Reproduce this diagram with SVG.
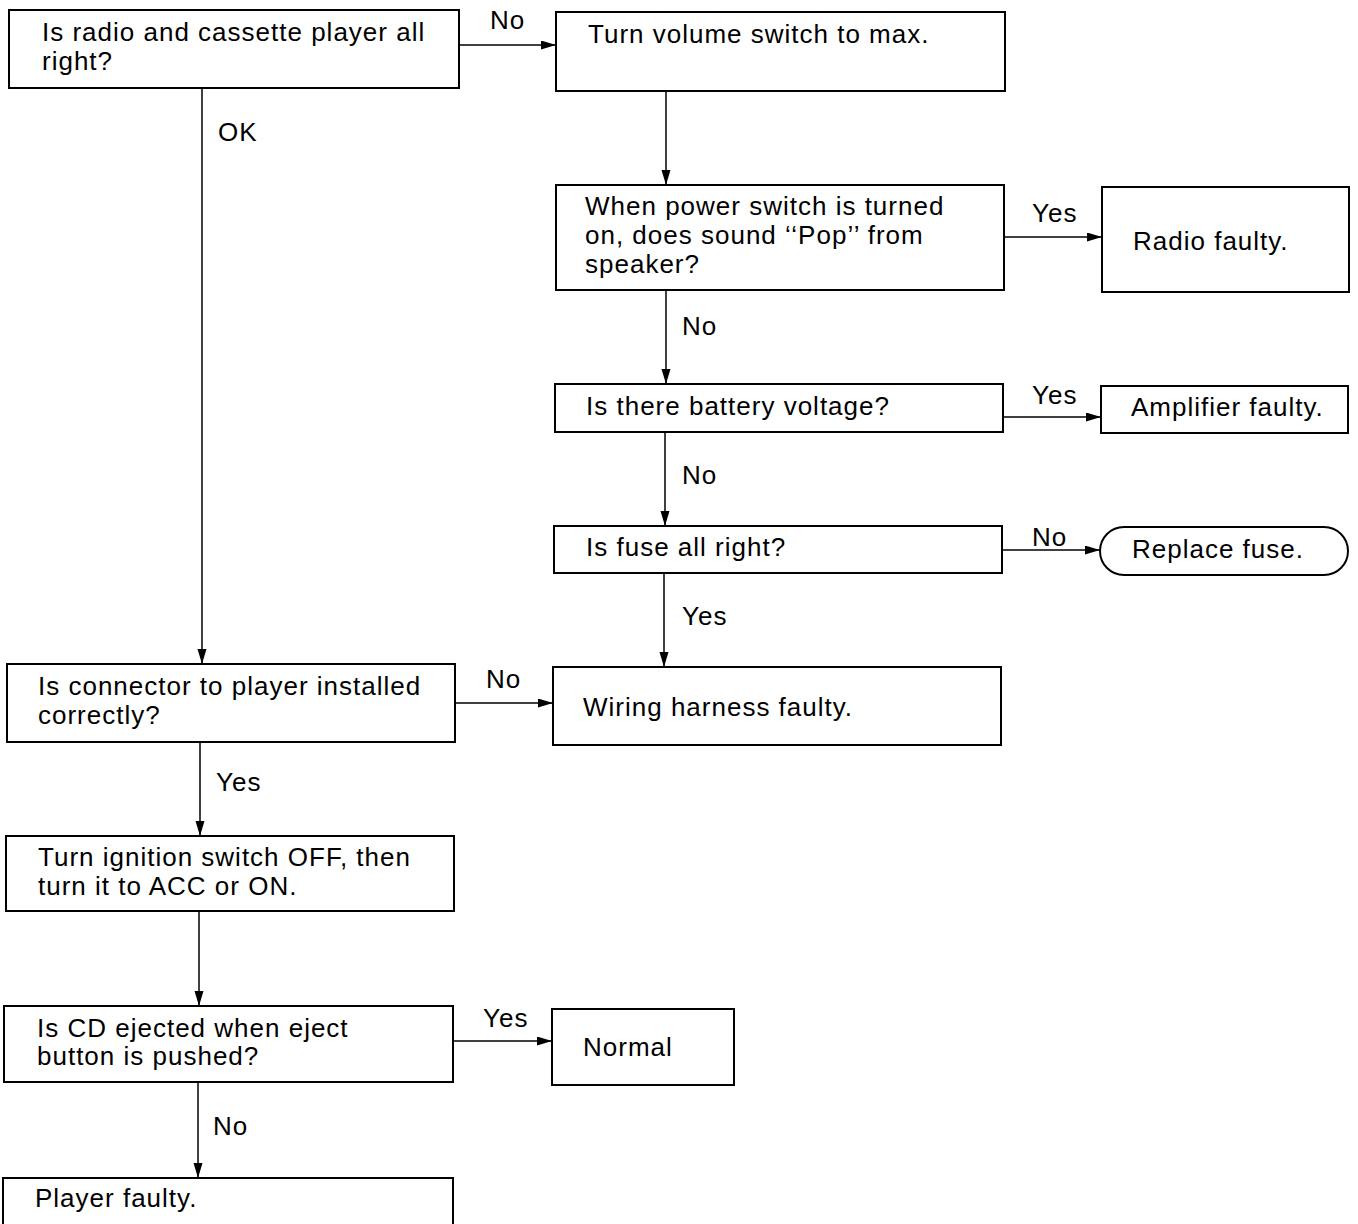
<svg xmlns="http://www.w3.org/2000/svg" width="1358" height="1224" viewBox="0 0 1358 1224">
<style>
.box{fill:#fff;stroke:#000;stroke-width:2}
.t{font-family:"Liberation Sans",Arial,sans-serif;font-size:26px;letter-spacing:1px;fill:#000}
.c{fill:none;stroke:#000;stroke-width:1.5}
</style>
<defs>
<marker id="ah" markerUnits="userSpaceOnUse" markerWidth="16" markerHeight="10" refX="15" refY="4.5" orient="auto">
<path d="M0,0 L15,4.5 L0,9 z" fill="#000"/>
</marker>
</defs>
<rect width="1358" height="1224" fill="#fff"/>
<g id="connectors">
<line class="c" x1="459" y1="45" x2="556" y2="45" marker-end="url(#ah)"/>
<line class="c" x1="666" y1="91" x2="666" y2="185" marker-end="url(#ah)"/>
<line class="c" x1="1004" y1="237" x2="1102" y2="237" marker-end="url(#ah)"/>
<line class="c" x1="666" y1="290" x2="666" y2="384" marker-end="url(#ah)"/>
<line class="c" x1="1003" y1="417" x2="1101" y2="417" marker-end="url(#ah)"/>
<line class="c" x1="665" y1="432" x2="665" y2="526" marker-end="url(#ah)"/>
<line class="c" x1="1002" y1="550" x2="1100" y2="550" marker-end="url(#ah)"/>
<line class="c" x1="664" y1="573" x2="664" y2="667" marker-end="url(#ah)"/>
<line class="c" x1="202" y1="88" x2="202" y2="664" marker-end="url(#ah)"/>
<line class="c" x1="455" y1="703" x2="553" y2="703" marker-end="url(#ah)"/>
<line class="c" x1="200" y1="742" x2="200" y2="836" marker-end="url(#ah)"/>
<line class="c" x1="199" y1="911" x2="199" y2="1006" marker-end="url(#ah)"/>
<line class="c" x1="453" y1="1041" x2="552" y2="1041" marker-end="url(#ah)"/>
<line class="c" x1="198" y1="1082" x2="198" y2="1178" marker-end="url(#ah)"/>
<text class="t" x="490" y="29">No</text>
<text class="t" x="218" y="141">OK</text>
<text class="t" x="1032" y="222">Yes</text>
<text class="t" x="682" y="335">No</text>
<text class="t" x="1032" y="404">Yes</text>
<text class="t" x="682" y="484">No</text>
<text class="t" x="1032" y="546">No</text>
<text class="t" x="682" y="625">Yes</text>
<text class="t" x="486" y="688">No</text>
<text class="t" x="216" y="791">Yes</text>
<text class="t" x="483" y="1027">Yes</text>
<text class="t" x="213" y="1135">No</text>
</g>
<g id="n1"><rect class="box" x="9" y="10" width="450" height="78"/>
<text class="t" x="42" y="41">Is radio and cassette player all</text>
<text class="t" x="42" y="70">right?</text></g>
<g id="n2"><rect class="box" x="556" y="12" width="449" height="79"/>
<text class="t" x="588" y="43">Turn volume switch to max.</text></g>
<g id="n3"><rect class="box" x="556" y="185" width="448" height="105"/>
<text class="t" x="585" y="215">When power switch is turned</text>
<text class="t" x="585" y="244">on, does sound ‘‘Pop’’ from</text>
<text class="t" x="585" y="273">speaker?</text></g>
<g id="n4"><rect class="box" x="1102" y="187" width="247" height="105"/>
<text class="t" x="1133" y="250">Radio faulty.</text></g>
<g id="n5"><rect class="box" x="555" y="384" width="448" height="48"/>
<text class="t" x="586" y="415">Is there battery voltage?</text></g>
<g id="n6"><rect class="box" x="1101" y="386" width="247" height="47"/>
<text class="t" x="1131" y="416">Amplifier faulty.</text></g>
<g id="n7"><rect class="box" x="554" y="526" width="448" height="47"/>
<text class="t" x="586" y="556">Is fuse all right?</text></g>
<g id="n8"><rect class="box" x="1100" y="527" width="248" height="48" rx="24" ry="24"/>
<text class="t" x="1132" y="558">Replace fuse.</text></g>
<g id="n9"><rect class="box" x="553" y="667" width="448" height="78"/>
<text class="t" x="583" y="716">Wiring harness faulty.</text></g>
<g id="n10"><rect class="box" x="7" y="664" width="448" height="78"/>
<text class="t" x="38" y="695">Is connector to player installed</text>
<text class="t" x="38" y="724">correctly?</text></g>
<g id="n11"><rect class="box" x="6" y="836" width="448" height="75"/>
<text class="t" x="38" y="866">Turn ignition switch OFF, then</text>
<text class="t" x="38" y="895">turn it to ACC or ON.</text></g>
<g id="n12"><rect class="box" x="4" y="1006" width="449" height="76"/>
<text class="t" x="37" y="1037">Is CD ejected when eject</text>
<text class="t" x="37" y="1065">button is pushed?</text></g>
<g id="n13"><rect class="box" x="552" y="1009" width="182" height="76"/>
<text class="t" x="583" y="1056">Normal</text></g>
<g id="n14"><rect class="box" x="3" y="1178" width="450" height="60"/>
<text class="t" x="35" y="1207">Player faulty.</text></g>
</svg>
